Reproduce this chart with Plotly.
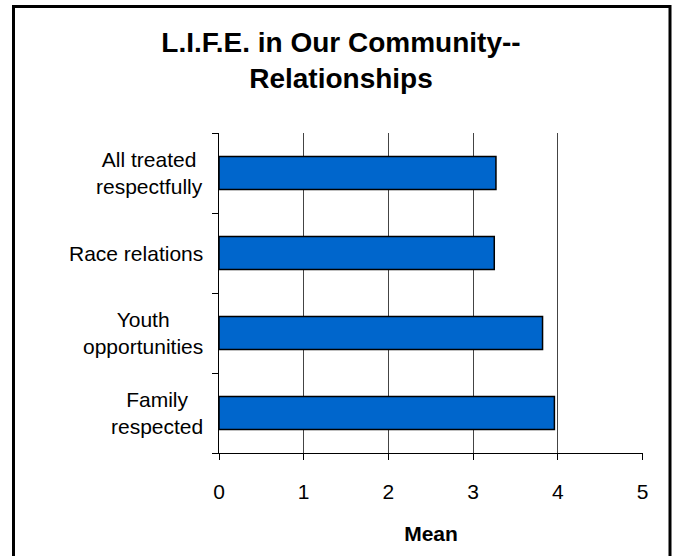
import plotly.graph_objects as go

categories = ["Family<br>respected", "Youth<br>opportunities", "Race relations", "All treated<br>respectfully"]
means = [3.96, 3.82, 3.25, 3.27]
x_ticks = [0, 1, 2, 3, 4, 5]

fig = go.Figure(go.Bar(
    x=means,
    y=categories,
    orientation="h",
    marker=dict(color="#0066CC", line=dict(color="black", width=1.5)),
))

# category labels as centered annotations (Excel centers multi-line labels)
for cat in categories:
    fig.add_annotation(
        x=0, xref="paper", y=cat, yref="y",
        text=cat, showarrow=False,
        xanchor="right", xshift=-14, align="center",
        font=dict(family="Liberation Sans, Arial", size=21, color="black"),
    )

# outer chart border
fig.add_shape(
    type="rect", xref="paper", yref="paper",
    x0=(13.5 - 219) / 424, x1=(670 - 219) / 424,
    y0=(453 - 560) / 320, y1=(453 - 6.5) / 320,
    line=dict(color="black", width=3),
)

fig.update_layout(
    width=675, height=556,
    margin=dict(l=219, r=32, t=133, b=103),
    paper_bgcolor="white", plot_bgcolor="white",
    showlegend=False,
    bargap=0.59,
    font=dict(family="Liberation Sans, Arial", size=21, color="black"),
    title=dict(
        text="<b>L.I.F.E. in Our Community--<br>Relationships</b>",
        x=341 / 675, xref="container", xanchor="center",
        y=1 - 52 / 556, yref="container", yanchor="middle",
        font=dict(size=28, color="black"),
    ),
    xaxis=dict(
        # tiny overshoot so the gridline at 5 is still drawn
        range=[0, 5.006], tickvals=x_ticks, showgrid=True,
        gridcolor="#444", gridwidth=1,
        showline=True, linecolor="black", linewidth=1,
        ticks="outside", ticklen=6, tickcolor="black",
        ticklabelstandoff=14,
        title=dict(text="<b>Mean</b>", standoff=24, font=dict(size=21)),
        zeroline=False,
    ),
    yaxis=dict(
        showticklabels=False, tickson="boundaries",
        ticks="outside", ticklen=6, tickcolor="black",
        showline=True, linecolor="black", linewidth=1,
        showgrid=False,
    ),
)

# drop the default body margin so the figure sits at the window origin
fig.write_html(
    "out.html",
    config={"displayModeBar": False},
    post_script="document.body.style.margin='0';",
)
